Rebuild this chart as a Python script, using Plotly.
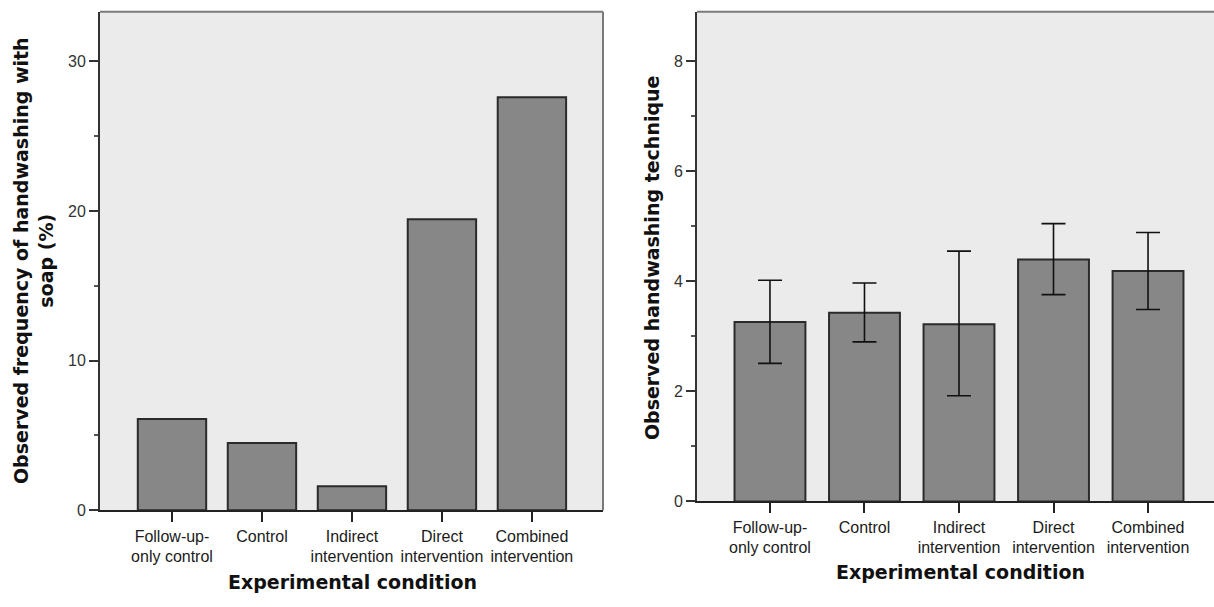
import plotly.graph_objects as go

# ---- data ----
categories = ["Follow-up-only control", "Control", "Indirect intervention",
              "Direct intervention", "Combined intervention"]
tick_labels = ["Follow-up-<br>only control", "Control", "Indirect<br>intervention",
               "Direct<br>intervention", "Combined<br>intervention"]
soap_freq = [6.1, 4.5, 1.6, 19.45, 27.6]
technique_mean = [3.26, 3.43, 3.22, 4.40, 4.19]
technique_ci_low = [2.51, 2.90, 1.92, 3.76, 3.49]
technique_ci_high = [4.02, 3.97, 4.55, 5.05, 4.89]
left_y_ticks = [0, 10, 20, 30]
right_y_ticks = [0, 2, 4, 6, 8]

W, H = 1214, 607
err_plus = [h - m for h, m in zip(technique_ci_high, technique_mean)]
err_minus = [m - l for m, l in zip(technique_mean, technique_ci_low)]

BAR_FILL = "#878787"
BAR_LINE = "#2b2b2b"
BG = "#EBEBEB"
TICK_FONT = dict(family="Liberation Sans, Arial", size=16, color="#333333")

fig = go.Figure()
fig.add_trace(go.Bar(
    x=categories, y=soap_freq, width=0.76,
    marker=dict(color=BAR_FILL, line=dict(color=BAR_LINE, width=2)),
    xaxis="x", yaxis="y", showlegend=False))
fig.add_trace(go.Bar(
    x=categories, y=technique_mean, width=0.75,
    marker=dict(color=BAR_FILL, line=dict(color=BAR_LINE, width=2)),
    error_y=dict(type="data", symmetric=False, array=err_plus, arrayminus=err_minus,
                 color="#111111", thickness=1.6, width=12),
    xaxis="x2", yaxis="y2", showlegend=False))

def px_x(p):
    return p / W

def px_y(p):
    return 1 - p / H

common_x = dict(type="category", tickmode="array", tickvals=categories, ticktext=tick_labels,
                tickangle=0,
                ticks="outside", ticklen=10, tickwidth=2, tickcolor="#222222",
                showline=True, linecolor="#222222", linewidth=2, showgrid=False,
                zeroline=False, tickfont=dict(TICK_FONT, color="#1a1a1a"), fixedrange=True)
common_y = dict(ticks="outside", ticklen=9, tickwidth=2, tickcolor="#333333",
                showline=True, linecolor="#333333", linewidth=2, showgrid=False,
                zeroline=False, tickfont=TICK_FONT,
                minor=dict(ticks="outside", ticklen=4, tickwidth=1.5, tickcolor="#555555"))

fig.update_layout(
    width=W, height=H,
    margin=dict(l=0, r=0, t=0, b=0),
    paper_bgcolor="white", plot_bgcolor=BG,
    bargap=0.2,
    xaxis=dict(common_x, domain=[px_x(100), px_x(603)], range=[-0.8, 4.79], anchor="y"),
    yaxis=dict(common_y, domain=[px_y(518), px_y(12)], range=[0, 33.3], anchor="x",
               tickvals=left_y_ticks, minor=dict(common_y["minor"], dtick=5)),
    xaxis2=dict(common_x, domain=[px_x(697), 1.0], range=[-0.772, 4.698], anchor="y2"),
    yaxis2=dict(common_y, domain=[px_y(509), px_y(12)], range=[0, 8.9], anchor="x2",
                tickvals=right_y_ticks, minor=dict(common_y["minor"], dtick=1)),
)

# frame: top and right borders
fig.add_shape(type="line", xref="x domain", yref="y domain", x0=0, x1=1, y0=1, y1=1,
              line=dict(color="#7a7a7a", width=2))
fig.add_shape(type="line", xref="x domain", yref="y domain", x0=1, x1=1, y0=0, y1=1,
              line=dict(color="#7a7a7a", width=2))
fig.add_shape(type="line", xref="x2 domain", yref="y2 domain", x0=0, x1=1, y0=1, y1=1,
              line=dict(color="#7a7a7a", width=2))

TITLE_FONT = dict(family="DejaVu Sans", size=19, color="#111111")
fig.add_annotation(text="<b>Experimental condition</b>", xref="paper", yref="paper",
                   x=px_x(352), y=px_y(591), showarrow=False, font=TITLE_FONT,
                   xanchor="center", yanchor="middle")
fig.add_annotation(text="<b>Experimental condition</b>", xref="paper", yref="paper",
                   x=px_x(960), y=px_y(581), showarrow=False, font=TITLE_FONT,
                   xanchor="center", yanchor="middle")
fig.add_annotation(text="<b>Observed frequency of handwashing with<br>soap (%)</b>",
                   xref="paper", yref="paper", x=px_x(33), y=px_y(265), textangle=-90,
                   showarrow=False, font=TITLE_FONT, xanchor="center", yanchor="middle")
fig.add_annotation(text="<b>Observed handwashing technique</b>",
                   xref="paper", yref="paper", x=px_x(652), y=px_y(262), textangle=-90,
                   showarrow=False, font=TITLE_FONT, xanchor="center", yanchor="middle")

page_css = ("document.documentElement.style.margin='0';document.body.style.margin='0';"
            "document.documentElement.style.overflow='hidden';"
            "document.body.style.overflow='hidden';")
fig.write_html("out.html", config={"displayModeBar": False}, post_script=page_css)
